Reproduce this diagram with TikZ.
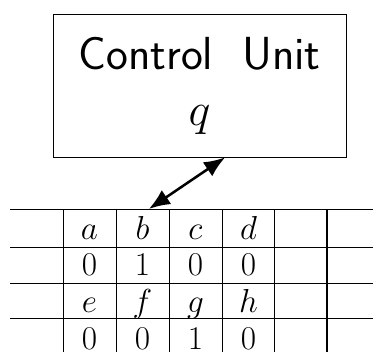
\documentclass[tikz,border=0pt]{standalone}
\usepackage{amsmath}
\usepackage{amssymb}
\usetikzlibrary{matrix, arrows, arrows.meta, calc}

\begin{document}
\begin{tikzpicture}[cell/.style={minimum width=1.3947cm, minimum height=0.965cm, inner sep=0pt, text height=0.6cm, text depth=0.2cm, font=\Huge, scale=0.95, transform shape}]
\useasboundingbox (0,0) rectangle (9.325,8.8);
\node[draw, minimum width=5.525cm, minimum height=2.696cm, align=center, font=\Huge, scale=1.326, transform shape](cu) at (4.9875,6.6625){\sffamily Control\ \ Unit\\ $q$};
\matrix (m) [matrix of math nodes, nodes={cell}, column sep=0pt, row sep=0pt, inner sep=0pt, anchor=m-1-1.base] at (2.2375,2.825){
a & b & c & d \\
0 & 1 & 0 & 0 \\
e & f & g & h \\
0 & 0 & 1 & 0 \\
};
\coordinate (top) at (0.25,3.575);
\foreach \y in {3.575, 2.625, 1.725, 0.85} \draw (0.25,\y) -- (9.325,\y);
\foreach \x in {1.575, 2.9, 4.225, 5.55, 6.85} \draw (\x,3.575) -- (\x,0);
\draw[line width=0.8pt] (8.175,3.575) -- (8.175,0);
\draw[{Latex[length=15pt,width=12pt]}-{Latex[length=15pt,width=12pt]}, line width=1.8pt] ($(m-1-2.center |- top)+(0.16,0)$) -- ($(cu.south)+(0.64,0)$);
\end{tikzpicture}
\end{document}
